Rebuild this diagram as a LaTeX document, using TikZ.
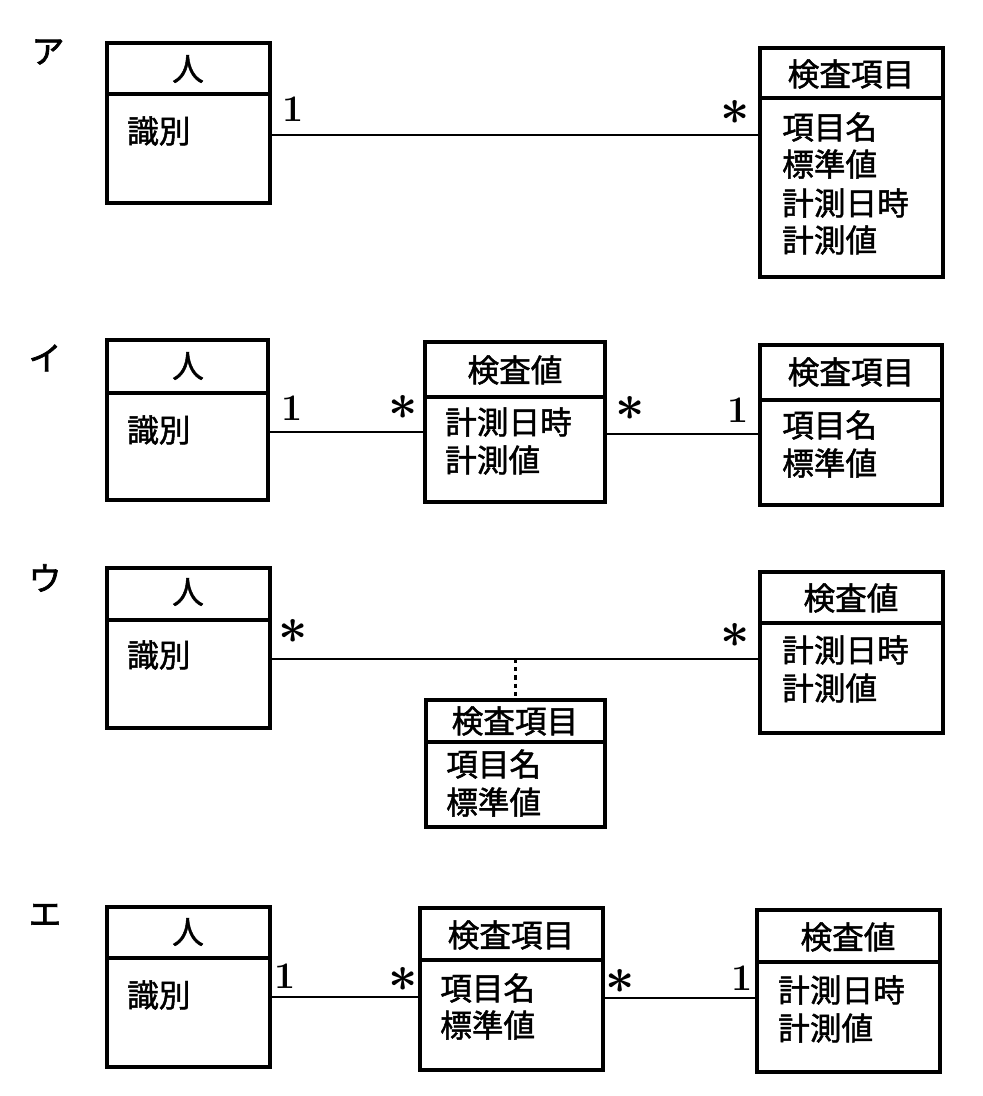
\documentclass[tikz,border=0pt]{standalone}
\usepackage{fontspec}
\usepackage{graphicx}
\newfontfamily\jp[FakeBold=1.5]{Noto Sans CJK JP}
\newfontfamily\jplbl[FakeBold=2]{Noto Sans CJK JP}
\usetikzlibrary{fit}
\newcommand\manymark{\scalebox{1.75}{$\ast$}}
\tikzset{
  cls/.style={draw,line width=2.7pt,inner sep=0pt},
  divline/.style={line width=2.7pt},
  ttl/.style={font=\jp\fontsize{27}{30}\selectfont,inner sep=0pt},
  attr/.style={font=\jp\fontsize{27}{30}\selectfont,inner sep=0pt,anchor=west},
  mult/.style={font=\bfseries\fontsize{32}{34}\selectfont,inner sep=0pt},
  many/.style={font=\fontsize{24.88}{30}\selectfont\mathversion{bold},inner sep=0pt},
  assoc/.style={line width=2.4pt},
  lbl/.style={font=\jplbl\fontsize{28}{30}\selectfont,inner sep=0pt}
}
\begin{document}
\begin{tikzpicture}[x=0.03cm,y=-0.03cm]
  \useasboundingbox (0,0) rectangle (982,1096);
%%% ア
  \node[lbl] (labA) at (48,52) {ア};
  \node[cls,fit={(107,43) (270,203)}] (a1) {};
  \draw[divline] (a1.west |- 0,94) -- (a1.east |- 0,94);
  \node[ttl] (a1t) at (188,69) {人};
  \node[attr] (a1x) at (127,131) {識別};
  \node[cls,fit={(760,48) (943,277)}] (a2) {};
  \draw[divline] (a2.west |- 0,98) -- (a2.east |- 0,98);
  \node[ttl] (a2t) at (851,74) {検査項目};
  \node[attr] (a2x) at (782,127) {項目名};
  \node[attr] (a2y) at (782,164) {標準値};
  \node[attr] (a2z) at (782,203) {計測日時};
  \node[attr] (a2w) at (782,240) {計測値};
  \coordinate (la) at (0,135);
  \draw[assoc] (a1.east |- la) -- (a2.west |- la);
  \node[mult] (ma1) at (293,109) {1};
  \node[many] (ma2) at (735,112) {\manymark};
%%% イ
  \node[lbl] (labB) at (45,358) {イ};
  \node[cls,fit={(107,340) (268,500)}] (b1) {};
  \draw[divline] (b1.west |- 0,393) -- (b1.east |- 0,393);
  \node[ttl] (b1t) at (188,366) {人};
  \node[attr] (b1x) at (127,430) {識別};
  \node[cls,fit={(425,342) (605,502)}] (b2) {};
  \draw[divline] (b2.west |- 0,397) -- (b2.east |- 0,397);
  \node[ttl] (b2t) at (515,370) {検査値};
  \node[attr] (b2x) at (445,422) {計測日時};
  \node[attr] (b2y) at (445,460) {計測値};
  \node[cls,fit={(760,345) (942,505)}] (b3) {};
  \draw[divline] (b3.west |- 0,400) -- (b3.east |- 0,400);
  \node[ttl] (b3t) at (851,372) {検査項目};
  \node[attr] (b3x) at (782,425) {項目名};
  \node[attr] (b3y) at (782,463) {標準値};
  \coordinate (lb1) at (0,432);
  \coordinate (lb2) at (0,434);
  \draw[assoc] (b1.east |- lb1) -- (b2.west |- lb1);
  \draw[assoc] (b2.east |- lb2) -- (b3.west |- lb2);
  \node[mult] (mb1) at (292,408) {1};
  \node[many] (mb2) at (403,407) {\manymark};
  \node[many] (mb3) at (630,408) {\manymark};
  \node[mult] (mb4) at (738,410) {1};
%%% ウ
  \node[lbl] (labC) at (45,578) {ウ};
  \node[cls,fit={(107,568) (270,728)}] (c1) {};
  \draw[divline] (c1.west |- 0,620) -- (c1.east |- 0,620);
  \node[ttl] (c1t) at (188,592) {人};
  \node[attr] (c1x) at (127,655) {識別};
  \node[cls,fit={(760,572) (943,733)}] (c2) {};
  \draw[divline] (c2.west |- 0,623) -- (c2.east |- 0,623);
  \node[ttl] (c2t) at (851,598) {検査値};
  \node[attr] (c2x) at (782,650) {計測日時};
  \node[attr] (c2y) at (782,688) {計測値};
  \node[cls,fit={(426,700) (605,827)}] (c3) {};
  \draw[divline] (c3.west |- 0,742) -- (c3.east |- 0,742);
  \node[ttl] (c3t) at (515,721) {検査項目};
  \node[attr] (c3x) at (446,764) {項目名};
  \node[attr] (c3y) at (446,802) {標準値};
  \coordinate (lc) at (0,659);
  \draw[assoc] (c1.east |- lc) -- (c2.west |- lc);
  \draw[assoc,dash pattern=on 3.5pt off 3.5pt] (c3.north |- lc) -- (c3.north);
  \node[many] (mc1) at (293,631) {\manymark};
  \node[many] (mc2) at (735,635) {\manymark};
%%% エ
  \node[lbl] (labD) at (45,915) {エ};
  \node[cls,fit={(107,907) (270,1067)}] (d1) {};
  \draw[divline] (d1.west |- 0,958) -- (d1.east |- 0,958);
  \node[ttl] (d1t) at (188,932) {人};
  \node[attr] (d1x) at (127,995) {識別};
  \node[cls,fit={(420,908) (603,1070)}] (d2) {};
  \draw[divline] (d2.west |- 0,960) -- (d2.east |- 0,960);
  \node[ttl] (d2t) at (511,935) {検査項目};
  \node[attr] (d2x) at (440,988) {項目名};
  \node[attr] (d2y) at (440,1025) {標準値};
  \node[cls,fit={(757,910) (940,1072)}] (d3) {};
  \draw[divline] (d3.west |- 0,962) -- (d3.east |- 0,962);
  \node[ttl] (d3t) at (848,937) {検査値};
  \node[attr] (d3x) at (778,990) {計測日時};
  \node[attr] (d3y) at (778,1028) {計測値};
  \coordinate (ld1) at (0,997);
  \coordinate (ld2) at (0,998);
  \draw[assoc] (d1.east |- ld1) -- (d2.west |- ld1);
  \draw[assoc] (d2.east |- ld2) -- (d3.west |- ld2);
  \node[mult] (md1) at (285,976) {1};
  \node[many] (md2) at (403,979) {\manymark};
  \node[many] (md3) at (620,981) {\manymark};
  \node[mult] (md4) at (742,978) {1};
\end{tikzpicture}
\end{document}
